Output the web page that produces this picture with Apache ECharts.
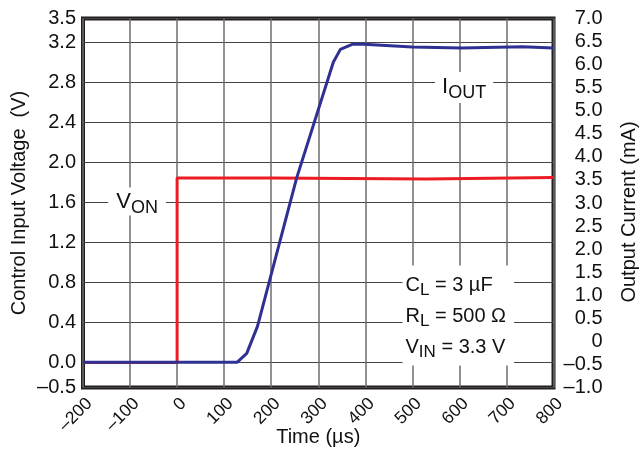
<!DOCTYPE html>
<html>
<head>
<meta charset="utf-8">
<script src="https://cdn.jsdelivr.net/npm/echarts@6/dist/echarts.min.js"></script>
<style>
html, body { margin: 0; padding: 0; background: #fff; }
#main { width: 640px; height: 450px; }
</style>
</head>
<body>
<div id="main"></div>
<script>
// time axis (us)
var timeMin = -200, timeMax = 800, timeStep = 100;

// V_ON, control input voltage (V)
var vonTime = [-200, 0, 0, 200, 530, 800];
var vonVolt = [0, 0, 1.845, 1.845, 1.835, 1.85];

// I_OUT, output current (mA)
var ioutTime = [-200, 128, 148, 171, 254, 332, 347, 372, 397, 500, 604, 734, 800];
var ioutCurr = [-0.45, -0.45, -0.26, 0.33, 3.54, 6.05, 6.33, 6.44, 6.44, 6.38, 6.36, 6.39, 6.36];

// left axis: top and bottom labels are squeezed in, like on the datasheet
var voltTicks = [-0.25, 0, 0.4, 0.8, 1.2, 1.6, 2.0, 2.4, 2.8, 3.2, 3.44];
var voltTickLabels = ['–0.5', '0.0', '0.4', '0.8', '1.2', '1.6', '2.0', '2.4', '2.8', '3.2', '3.5'];

// right axis
var currMin = -1, currMax = 7, currStep = 0.5;

function zip(a, b) {
    var out = [];
    for (var i = 0; i < a.length; ++i) out.push([a[i], b[i]]);
    return out;
}

function dash(s) {
    return String(s).replace('-', '–');
}

var font = 'Liberation Sans';

var subStyle = function (size, shift) {
    return { fontFamily: font, fontSize: size, color: '#111', lineHeight: 24, padding: [shift, 0, 0, 0] };
};

var option = {
    animation: false,
    backgroundColor: '#fff',
    textStyle: { fontFamily: font, color: '#111' },
    grid: {
        left: 83, right: 86.5, top: 18.5, bottom: 62.5,
        containLabel: false,
        outerBoundsMode: 'none',
        show: true,
        borderColor: '#231f20',
        borderWidth: 4
    },
    xAxis: {
        type: 'value',
        min: timeMin, max: timeMax, interval: timeStep,
        name: 'Time (µs)',
        nameLocation: 'middle',
        nameGap: 40,
        nameMoveOverlap: false,
        nameTextStyle: { fontFamily: font, fontSize: 20, color: '#111' },
        axisLine: { show: false },
        axisTick: { show: false },
        axisLabel: {
            rotate: 45,
            margin: 7,
            fontFamily: font, fontSize: 17.5, color: '#111',
            verticalAlign: 'top',
            formatter: function (v) { return dash(v); }
        },
        splitLine: { show: true, lineStyle: { color: '#6d6d6d', width: 1.5 } }
    },
    yAxis: [
        {
            type: 'value',
            min: voltTicks[0], max: voltTicks[voltTicks.length - 1],
            name: 'Control Input Voltage  (V)',
            nameLocation: 'middle',
            nameGap: 54,
            nameMoveOverlap: false,
            nameTextStyle: { fontFamily: font, fontSize: 20, color: '#111' },
            axisLine: { show: false },
            axisTick: { show: false, customValues: voltTicks },
            axisLabel: {
                customValues: voltTicks,
                margin: 7,
                fontFamily: font, fontSize: 20, color: '#111',
                formatter: function (v) {
                    var i = voltTicks.indexOf(v);
                    return i >= 0 ? voltTickLabels[i] : '';
                }
            },
            splitLine: { show: true, lineStyle: { color: '#444', width: 1.2 } }
        },
        {
            type: 'value',
            min: currMin, max: currMax, interval: currStep,
            name: 'Output Current (mA)',
            nameLocation: 'middle',
            nameGap: 66,
            nameMoveOverlap: false,
            nameTextStyle: { fontFamily: font, fontSize: 20, color: '#111', padding: [0, 18, 0, 0] },
            axisLine: { show: false },
            axisTick: { show: false },
            axisLabel: {
                margin: 49,
                align: 'right',
                fontFamily: font, fontSize: 20, color: '#111',
                formatter: function (v) { return v === 0 ? '0' : dash(v.toFixed(1)); }
            },
            splitLine: { show: false }
        }
    ],
    series: [
        {
            name: 'VON',
            type: 'line',
            yAxisIndex: 0,
            data: zip(vonTime, vonVolt),
            symbol: 'none',
            lineStyle: { color: '#ed1c24', width: 3 },
            markPoint: {
                symbol: 'rect',
                symbolSize: 1,
                itemStyle: { color: 'rgba(0,0,0,0)' },
                label: { show: true },
                data: [
                    {
                        coord: [-85, 1.61],
                        label: {
                            position: 'inside',
                            backgroundColor: '#fff',
                            padding: [2, 8, 2, 8],
                            formatter: '{m|V}{s|ON}',
                            rich: {
                                m: { fontFamily: font, fontSize: 22, color: '#111', lineHeight: 24 },
                                s: subStyle(18, 13)
                            }
                        }
                    },
                    {
                        coord: [610, 2.75],
                        label: {
                            position: 'inside',
                            backgroundColor: '#fff',
                            padding: [3, 7, 4, 7],
                            formatter: '{m|I}{s|OUT}',
                            rich: {
                                m: { fontFamily: font, fontSize: 22, color: '#111', lineHeight: 24 },
                                s: subStyle(18, 13)
                            }
                        }
                    },
                    {
                        coord: [478, 0.47],
                        label: {
                            position: 'right',
                            distance: 0,
                            backgroundColor: '#fff',
                            padding: [4, 8, 3, 3],
                            lineHeight: 31,
                            formatter: '{m|C}{s|L}{m| = 3 µF}\n{m|R}{s|L}{m| = 500 Ω}\n{m|V}{s|IN}{m| = 3.3 V}',
                            rich: {
                                m: { fontFamily: font, fontSize: 20, color: '#111', lineHeight: 31 },
                                s: { fontFamily: font, fontSize: 17, color: '#111', lineHeight: 31, padding: [10, 0, 0, 0] }
                            }
                        }
                    }
                ]
            }
        },
        {
            name: 'IOUT',
            type: 'line',
            yAxisIndex: 1,
            data: zip(ioutTime, ioutCurr),
            symbol: 'none',
            lineStyle: { color: '#2e3192', width: 3 }
        }
    ]
};

var myChart = echarts.init(document.getElementById('main'));
myChart.setOption(option);
</script>
</body>
</html>
